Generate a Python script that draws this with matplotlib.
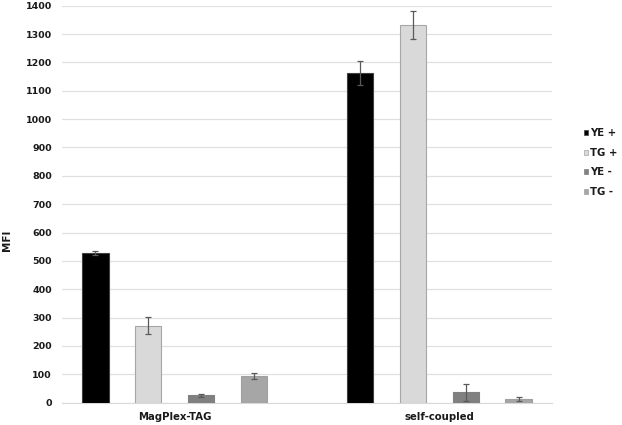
import numpy as np
import matplotlib
matplotlib.use("Agg")
import matplotlib.pyplot as plt
from matplotlib.patches import Patch

# the original text looks like Arial stretched wide, DejaVu Bold is close in width
plt.rcParams['font.family'] = ['DejaVu Sans']

groups = ['MagPlex-TAG', 'self-coupled']
series = ['YE +', 'TG +', 'YE -', 'TG -']
ye_pos = [528, 1163]
tg_pos = [272, 1333]
ye_neg = [26, 36]
tg_neg = [94, 12]
ye_pos_err = [7, 42]
tg_pos_err = [29, 49]
ye_neg_err = [6, 31]
tg_neg_err = [11, 7]

values = [ye_pos, tg_pos, ye_neg, tg_neg]
errors = [ye_pos_err, tg_pos_err, ye_neg_err, tg_neg_err]
colors = ['#000000', '#d9d9d9', '#808080', '#a6a6a6']
edges = ['#404040', '#a6a6a6', '#808080', '#a0a0a0']

fig = plt.figure(figsize=(6.22, 4.25), dpi=100)
ax = fig.add_axes([62 / 622, 22.3 / 425, 490 / 622, 397 / 425])

group_x = np.array([0, 5])
for i, (vals, errs) in enumerate(zip(values, errors)):
    ax.bar(group_x + i, vals, width=0.5, color=colors[i], edgecolor=edges[i],
           linewidth=0.8, yerr=errs, capsize=1.9,
           error_kw=dict(ecolor='#595959', elinewidth=0.9, capthick=0.9),
           zorder=3)

ax.set_xlim(-0.63, 8.63)
ax.set_ylim(0, 1400)
ax.set_yticks(np.arange(0, 1401, 100))
ax.yaxis.grid(True, color='#e0e0e0', linewidth=0.9, zorder=0)
ax.set_xticks(group_x + 1.5)
ax.set_xticklabels(groups)
for s in ax.spines.values():
    s.set_visible(False)
ax.spines['bottom'].set_visible(True)
ax.spines['bottom'].set_color('#d9d9d9')
ax.tick_params(axis='both', length=0, labelsize=6.8, colors='#1a1a1a')
ax.tick_params(axis='y', pad=7.2)
ax.tick_params(axis='x', labelsize=7.3, pad=6.5)
for lab in ax.get_xticklabels() + ax.get_yticklabels():
    lab.set_fontweight('bold')

fig.text(7 / 622, 1 - 240 / 425, 'MFI', rotation=90, ha='center', va='center',
         fontsize=7.5, fontweight='bold', color='#1a1a1a')

handles = [Patch(facecolor=c, edgecolor=e, linewidth=0.5) for c, e in zip(colors, edges)]
fig.legend(handles, series, loc='center left', bbox_to_anchor=(584 / 622, 1 - 162.5 / 425),
           frameon=False, handlelength=0.4, handleheight=0.4,
           handletextpad=0.15, labelspacing=0.94, borderaxespad=0, borderpad=0,
           labelcolor='#1a1a1a', prop=dict(weight='bold', size=7.3))

fig.savefig('out.png', dpi=100)
